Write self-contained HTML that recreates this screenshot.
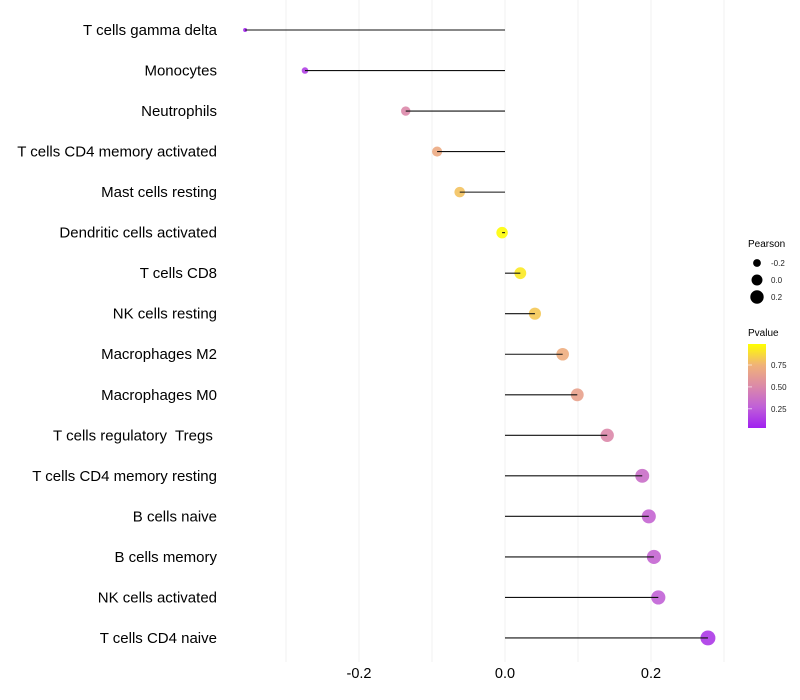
<!DOCTYPE html>
<html><head><meta charset="utf-8"><style>
body{margin:0;background:#fff;}
svg{display:block;font-family:"Liberation Sans",sans-serif;}
#ylabels text{white-space:pre;}
</style></head><body>
<svg id="chart" width="800" height="700">
<g id="grid"></g>
<g id="dots"></g>
<g id="marks"></g>
<g id="ylabels"></g>
<g id="xlabels"></g>
<g>
<text x="748" y="247" font-size="10" fill="#000">Pearson</text>
<g id="sizeleg"></g>
<text x="748" y="336" font-size="10" fill="#000">Pvalue</text>
<defs><linearGradient id="pg" x1="0" y1="1" x2="0" y2="0">
<stop offset="0" stop-color="#a020f0"/><stop offset="0.25" stop-color="#c060d8"/><stop offset="0.5" stop-color="#dc8aa8"/><stop offset="0.75" stop-color="#f0b278"/><stop offset="1" stop-color="#ffff00"/></linearGradient></defs>
<rect x="748" y="344" width="18" height="84" fill="url(#pg)"/>
<g id="colleg"></g>
</g>
</svg>
<script>
const categories=["T cells gamma delta","Monocytes","Neutrophils","T cells CD4 memory activated","Mast cells resting","Dendritic cells activated","T cells CD8","NK cells resting","Macrophages M2","Macrophages M0","T cells regulatory  Tregs ","T cells CD4 memory resting","B cells naive","B cells memory","NK cells activated","T cells CD4 naive"];
const pearson=[-0.356,-0.274,-0.136,-0.093,-0.062,-0.004,0.021,0.041,0.079,0.099,0.140,0.188,0.197,0.204,0.210,0.278];
const pvalues=[0.05,0.15,0.5,0.7,0.8,0.98,0.92,0.82,0.72,0.65,0.5,0.35,0.3,0.3,0.28,0.12];
const xTicks=[-0.2,0.0,0.2];
const xMinor=[-0.3,-0.1,0.1,0.3];
const sizeLegend=[-0.2,0.0,0.2];
const colorTicks=[0.25,0.5,0.75];
const NS="http://www.w3.org/2000/svg";
const xs=v=>505+v*730;
const ys=i=>30+i*40.53;
const pMin=0.03,pMax=0.99;
const pmin=Math.min(...pearson),pmax=Math.max(...pearson);
const rs=v=>Math.sqrt(4+(v-pmin)/(pmax-pmin)*52);
const stops=[[0,[160,32,240]],[0.25,[192,96,216]],[0.5,[220,138,168]],[0.75,[240,178,120]],[1,[255,255,0]]];
function col(p){let t=(p-pMin)/(pMax-pMin);t=Math.max(0,Math.min(1,t));
for(let k=1;k<stops.length;k++){if(t<=stops[k][0]){const a=stops[k-1],b=stops[k],f=(t-a[0])/(b[0]-a[0]);
return "rgb("+a[1].map((c,j)=>Math.round(c+(b[1][j]-c)*f)).join(",")+")";}}return "rgb(255,255,0)";}
function mk(t,attrs,parent){const e=document.createElementNS(NS,t);for(const k in attrs)e.setAttribute(k,attrs[k]);parent.appendChild(e);return e;}
const grid=document.getElementById('grid');
xTicks.concat(xMinor).forEach(v=>{const l=mk('line',{x1:xs(v),x2:xs(v),y1:0,y2:662,stroke:'#f0f0f0','stroke-width':1},grid);

});
const xl=document.getElementById('xlabels');
xTicks.forEach(v=>{const t=mk('text',{x:xs(v),y:678,'font-size':14.5,'text-anchor':'middle',fill:'#000'},xl);t.textContent=v.toFixed(1);

});
const marks=document.getElementById('marks'),dots=document.getElementById('dots'),yl=document.getElementById('ylabels');
categories.forEach((c,i)=>{const y=ys(i),v=pearson[i];
const d=mk('circle',{cx:xs(v),cy:y,r:rs(v),fill:col(pvalues[i]),'fill-opacity':0.9},dots);


const l=mk('line',{x1:xs(0),x2:xs(v),y1:y,y2:y,stroke:'#111','stroke-width':1.1},marks);


const t=mk('text',{x:217,y:y+5,'font-size':15,'text-anchor':'end',fill:'#000'},yl);t.textContent=c;

});
const sl=document.getElementById('sizeleg');
sizeLegend.forEach((v,k)=>{const y=263+k*17;
const c=mk('circle',{cx:757,cy:y,r:rs(v)*0.95,fill:'#000'},sl);


const t=mk('text',{x:771,y:y+3,'font-size':8,fill:'#222'},sl);t.textContent=v.toFixed(1);

});
const cl=document.getElementById('colleg');
colorTicks.forEach(p=>{const y=428-(p-pMin)/(pMax-pMin)*84;
const t=mk('text',{x:771,y:y+3,'font-size':8,fill:'#222'},cl);t.textContent=p.toFixed(2);


const l=mk('line',{x1:748,x2:752,y1:y,y2:y,stroke:'#fff','stroke-opacity':0.6},cl);

});
</script>
</body></html>
